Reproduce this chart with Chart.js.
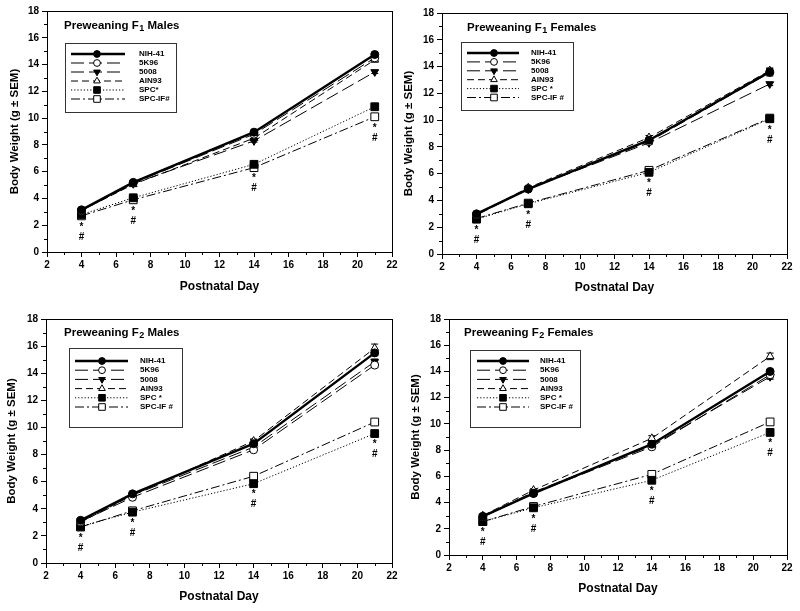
<!DOCTYPE html>
<html>
<head>
<meta charset="utf-8">
<script src="https://cdn.jsdelivr.net/npm/chart.js@4.4.0/dist/chart.umd.min.js"></script>
<style>
body { margin: 0; background: #fff; }
#wrap { position: relative; width: 800px; height: 611px; }
canvas { position: absolute; }
</style>
</head>
<body>
<div id="wrap">
  <canvas id="f1m" width="400" height="300" style="left:0;top:0"></canvas>
  <canvas id="f1f" width="400" height="300" style="left:400px;top:0"></canvas>
  <canvas id="f2m" width="400" height="311" style="left:0;top:300px"></canvas>
  <canvas id="f2f" width="400" height="311" style="left:400px;top:300px"></canvas>
</div>
<script>
// ---- data ----
var days = [4, 7, 14, 21];
var xTicks = [2, 4, 6, 8, 10, 12, 14, 16, 18, 20, 22];
var yTicks = [0, 2, 4, 6, 8, 10, 12, 14, 16, 18];
var labelsF1Males = ['NIH-41', '5K96', '5008', 'AIN93', 'SPC*', 'SPC-IF#'];
var labelsOther = ['NIH-41', '5K96', '5008', 'AIN93', 'SPC *', 'SPC-IF #'];
var sigMarks = ['*', '#'];

// rows: NIH-41, 5K96, 5008, AIN93, SPC, SPC-IF
var f1Males = [
  [3.15, 5.2, 8.95, 14.75],
  [3.1, 5.15, 8.8, 14.5],
  [3.1, 5.1, 8.3, 13.45],
  [3.1, 5.05, 8.5, 14.35],
  [2.8, 4.05, 6.55, 10.85],
  [2.7, 3.9, 6.3, 10.1]
];
var f1MalesSem = [
  [0.1, 0.1, 0.12, 0.15],
  [0.08, 0.1, 0.1, 0.15],
  [0.08, 0.08, 0.1, 0.12],
  [0.08, 0.08, 0.1, 0.15],
  [0.08, 0.08, 0.1, 0.12],
  [0.08, 0.08, 0.1, 0.12]
];
var f1Females = [
  [3.0, 4.85, 8.5, 13.6],
  [2.95, 4.9, 8.4, 13.55],
  [2.9, 4.85, 8.3, 12.7],
  [2.95, 4.95, 8.7, 13.7],
  [2.6, 3.75, 6.1, 10.1],
  [2.65, 3.8, 6.25, 10.15]
];
var f1FemalesSem = [
  [0.1, 0.12, 0.15, 0.3],
  [0.08, 0.1, 0.12, 0.15],
  [0.08, 0.1, 0.12, 0.12],
  [0.08, 0.1, 0.15, 0.15],
  [0.08, 0.08, 0.1, 0.15],
  [0.08, 0.08, 0.1, 0.12]
];
var f2Males = [
  [3.15, 5.1, 8.8, 15.5],
  [3.05, 4.85, 8.35, 14.6],
  [3.1, 5.0, 8.55, 14.85],
  [3.0, 5.0, 9.0, 15.85],
  [2.7, 3.75, 5.85, 9.55],
  [2.65, 3.85, 6.4, 10.4]
];
var f2MalesSem = [
  [0.1, 0.1, 0.3, 0.2],
  [0.08, 0.1, 0.12, 0.15],
  [0.08, 0.1, 0.12, 0.2],
  [0.08, 0.1, 0.15, 0.3],
  [0.08, 0.08, 0.1, 0.15],
  [0.08, 0.08, 0.1, 0.12]
];
var f2Females = [
  [2.95, 4.7, 8.45, 14.0],
  [2.9, 4.7, 8.25, 13.75],
  [2.95, 4.8, 8.35, 13.6],
  [3.0, 4.95, 8.9, 15.15],
  [2.55, 3.6, 5.7, 9.35],
  [2.55, 3.7, 6.15, 10.15]
];
var f2FemalesSem = [
  [0.1, 0.1, 0.15, 0.15],
  [0.08, 0.1, 0.12, 0.25],
  [0.08, 0.1, 0.12, 0.2],
  [0.08, 0.1, 0.2, 0.25],
  [0.08, 0.08, 0.1, 0.15],
  [0.08, 0.08, 0.1, 0.12]
];

// ---- line / marker styles per diet ----
var styles = [
  {dash: [], width: 2.4, point: 'circle', fill: '#000', rot: 0, r: 4},
  {dash: [13, 5], width: 1, point: 'circle', fill: '#fff', rot: 0, r: 4},
  {dash: [13, 5], width: 1, point: 'triangle', fill: '#000', rot: 180, r: 4.5},
  {dash: [7, 4], width: 1, point: 'triangle', fill: '#fff', rot: 0, r: 4.5},
  {dash: [1.2, 2], width: 1, point: 'rect', fill: '#000', rot: 0, r: 5.5},
  {dash: [9, 3, 2, 3], width: 1, point: 'rect', fill: '#fff', rot: 0, r: 5.5}
];

Chart.defaults.font.family = "'Liberation Sans', Arial, sans-serif";
Chart.defaults.color = '#000';

var panelDeco = {
  id: 'panelDeco',
  beforeDatasetsDraw: function(chart) {
    // error bars
    var o = chart.options.plugins.panelDeco;
    var ctx = chart.ctx, ys = chart.scales.y;
    ctx.save();
    ctx.strokeStyle = '#000';
    ctx.lineWidth = 1;
    chart.data.datasets.forEach(function(ds, i) {
      var meta = chart.getDatasetMeta(i);
      meta.data.forEach(function(pt, j) {
        var v = ds.data[j].y, s = o.sem[i][j];
        var y1 = ys.getPixelForValue(v + s), y2 = ys.getPixelForValue(v - s);
        ctx.beginPath();
        ctx.moveTo(pt.x, y1); ctx.lineTo(pt.x, y2);
        ctx.moveTo(pt.x - 3.5, y1); ctx.lineTo(pt.x + 3.5, y1);
        ctx.moveTo(pt.x - 3.5, y2); ctx.lineTo(pt.x + 3.5, y2);
        ctx.stroke();
      });
    });
    ctx.restore();
  },
  afterDraw: function(chart) {
    var o = chart.options.plugins.panelDeco;
    var ctx = chart.ctx, a = chart.chartArea;
    var xs = chart.scales.x, ys = chart.scales.y;
    var fam = Chart.defaults.font.family;
    ctx.save();
    // frame
    ctx.strokeStyle = '#000';
    ctx.lineWidth = 1;
    ctx.strokeRect(Math.round(a.left) + 0.5, Math.round(a.top) + 0.5,
      Math.round(a.right - a.left), Math.round(a.bottom - a.top));
    // minor ticks
    ctx.beginPath();
    for (var v = 3; v < 22; v += 2) {
      var px = Math.round(xs.getPixelForValue(v)) + 0.5;
      ctx.moveTo(px, a.bottom); ctx.lineTo(px, a.bottom + 3);
    }
    for (var w = 1; w < 18; w += 2) {
      var py = Math.round(ys.getPixelForValue(w)) + 0.5;
      ctx.moveTo(a.left, py); ctx.lineTo(a.left - 3, py);
    }
    ctx.stroke();

    // significance marks under SPC / SPC-IF
    ctx.fillStyle = '#000';
    ctx.textAlign = 'center';
    ctx.textBaseline = 'middle';
    ctx.font = 'bold 10px ' + fam;
    var m4 = chart.getDatasetMeta(4), m5 = chart.getDatasetMeta(5);
    days.forEach(function(d, j) {
      var low = Math.max(m4.data[j].y, m5.data[j].y);
      var x = m4.data[j].x;
      ctx.fillText(sigMarks[0], x, low + 11);
      ctx.fillText(sigMarks[1], x, low + 21);
    });

    // panel title with subscript
    ctx.textAlign = 'left';
    ctx.textBaseline = 'middle';
    ctx.font = 'bold 11.5px ' + fam;
    var tx = o.title.x, ty = o.title.y;
    ctx.fillText(o.title.pre, tx, ty);
    tx += ctx.measureText(o.title.pre).width;
    ctx.font = 'bold 9px ' + fam;
    ctx.fillText(o.title.sub, tx + 0.5, ty + 3);
    tx += ctx.measureText(o.title.sub).width + 0.5;
    ctx.font = 'bold 11.5px ' + fam;
    ctx.fillText(o.title.post, tx, ty);

    // legend box
    var L = o.legend;
    ctx.strokeStyle = '#333';
    ctx.lineWidth = 1;
    ctx.strokeRect(L.box[0] + 0.5, L.box[1] + 0.5, L.box[2] - L.box[0], L.box[3] - L.box[1]);
    ctx.font = 'bold 8px ' + fam;
    chart.data.datasets.forEach(function(ds, i) {
      var st = styles[i];
      var y = L.row0 + i * L.step;
      ctx.save();
      ctx.strokeStyle = '#000';
      ctx.lineWidth = st.width;
      ctx.setLineDash(st.dash);
      ctx.beginPath();
      ctx.moveTo(L.line[0], y); ctx.lineTo(L.line[1], y);
      ctx.stroke();
      ctx.setLineDash([]);
      ctx.fillStyle = st.fill;
      ctx.lineWidth = 1;
      Chart.helpers.drawPoint(ctx, {pointStyle: st.point, rotation: st.rot, radius: st.r * 0.85, borderWidth: 1}, L.marker, y);
      ctx.restore();
      ctx.fillText(ds.label, L.text, y);
    });
    ctx.restore();
  }
};

function makePanel(id, values, sem, labels, p) {
  var datasets = values.map(function(row, i) {
    var st = styles[i];
    return {
      label: labels[i],
      data: row.map(function(v, j) { return {x: days[j], y: v}; }),
      borderColor: '#000',
      borderWidth: st.width,
      borderDash: st.dash,
      backgroundColor: st.fill,
      pointStyle: st.point,
      pointRotation: st.rot,
      pointRadius: st.r,
      pointBorderWidth: 1,
      pointBorderColor: '#000',
      pointBackgroundColor: st.fill,
      tension: 0
    };
  });
  var canvas = document.getElementById(id);
  return new Chart(canvas.getContext('2d'), {
    type: 'line',
    data: {datasets: datasets},
    options: {
      responsive: false,
      animation: false,
      layout: {padding: {left: p.padL, right: canvas.width - p.right, top: p.top, bottom: 0}},
      scales: {
        x: {
          type: 'linear', min: 2, max: 22,
          afterBuildTicks: function(s) { s.ticks = xTicks.map(function(v) { return {value: v}; }); },
          afterFit: function(s) { s.height = canvas.height - p.bottom; },
          ticks: {font: {size: 10, weight: 'bold'}, color: '#000', padding: 2, maxRotation: 0},
          grid: {drawOnChartArea: false, tickLength: 5, color: '#000', tickColor: '#000'},
          border: {color: '#000', width: 1},
          title: {display: true, text: 'Postnatal Day', color: '#000',
            font: {size: 12, weight: 'bold'}, padding: {top: 0, bottom: p.xTitlePad}}
        },
        y: {
          min: 0, max: 18,
          afterBuildTicks: function(s) { s.ticks = yTicks.map(function(v) { return {value: v}; }); },
          afterFit: function(s) { s.width = p.left - p.padL; },
          ticks: {font: {size: 10, weight: 'bold'}, color: '#000', padding: 3},
          grid: {drawOnChartArea: false, tickLength: 5, color: '#000', tickColor: '#000'},
          border: {color: '#000', width: 1},
          title: {display: true, text: 'Body Weight (g \u00B1 SEM)', color: '#000',
            font: {size: 11.5, weight: 'bold'}, padding: {top: 0, bottom: 0}}
        }
      },
      plugins: {
        legend: {display: false},
        tooltip: {enabled: false},
        panelDeco: {sem: sem, title: p.title, legend: p.legend}
      }
    },
    plugins: [panelDeco]
  });
}

makePanel('f1m', f1Males, f1MalesSem, labelsF1Males, {
  left: 47, right: 392, top: 11, bottom: 252, padL: 8, xTitlePad: 6,
  title: {pre: 'Preweaning F', sub: '1', post: ' Males', x: 64, y: 26},
  legend: {box: [65, 43, 176, 112], row0: 54, step: 9, line: [71, 125], marker: 97, text: 139}
});
makePanel('f1f', f1Females, f1FemalesSem, labelsOther, {
  left: 42, right: 387, top: 13, bottom: 254, padL: 2, xTitlePad: 5,
  title: {pre: 'Preweaning F', sub: '1', post: ' Females', x: 67, y: 28},
  legend: {box: [61, 42, 173, 110], row0: 53, step: 8.9, line: [67, 119], marker: 94, text: 131}
});
makePanel('f2m', f2Males, f2MalesSem, labelsOther, {
  left: 46, right: 392, top: 19, bottom: 263, padL: 5, xTitlePad: 7,
  title: {pre: 'Preweaning F', sub: '2', post: ' Males', x: 64, y: 33},
  legend: {box: [69, 48, 182, 127], row0: 61, step: 9.2, line: [75, 128], marker: 102, text: 140}
});
makePanel('f2f', f2Females, f2FemalesSem, labelsOther, {
  left: 49, right: 387, top: 19, bottom: 255, padL: 9, xTitlePad: 15,
  title: {pre: 'Preweaning F', sub: '2', post: ' Females', x: 64, y: 33},
  legend: {box: [70, 50, 180, 127], row0: 61, step: 9.2, line: [77, 129], marker: 103, text: 140}
});
</script>
</body>
</html>
